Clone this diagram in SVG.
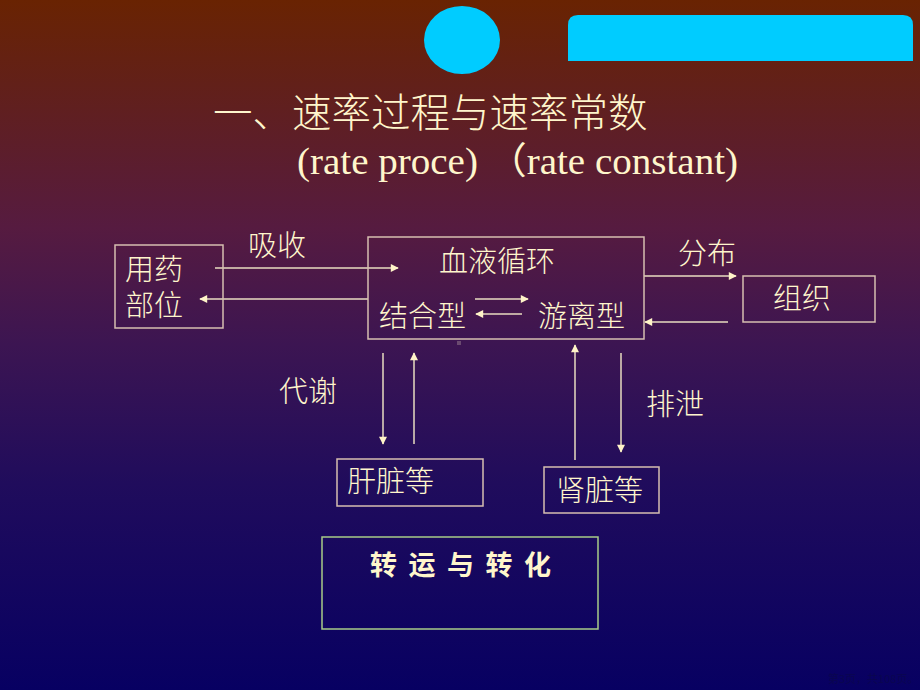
<svg xmlns="http://www.w3.org/2000/svg" width="920" height="690" viewBox="0 0 920 690">
<defs>
<linearGradient id="bg" x1="0" y1="0" x2="0" y2="1">
<stop offset="0" stop-color="#692302"/>
<stop offset="0.33" stop-color="#561b40"/>
<stop offset="0.5" stop-color="#3c1552"/>
<stop offset="0.7" stop-color="#200c5c"/>
<stop offset="1" stop-color="#070062"/>
</linearGradient>
<marker id="ah" viewBox="0 0 10 10" refX="9" refY="5" markerWidth="9" markerHeight="8" markerUnits="userSpaceOnUse" orient="auto">
<path d="M0,0 L10,5 L0,10 z" fill="#fff4c8"/>
</marker>
<style>
.t{font-family:"Noto Sans CJK SC","Liberation Sans",sans-serif;fill:#fff6cc;font-size:29px;font-weight:300}
.box{fill:none;stroke:#d6bfb0;stroke-width:1.5}
.ln{stroke:#e8dcc0;stroke-width:1.5;fill:none;marker-end:url(#ah)}
</style>
</defs>
<rect width="920" height="690" fill="url(#bg)"/>
<ellipse cx="462" cy="40" rx="38" ry="34" fill="#00ccff"/>
<path d="M568,61 V25 Q568,15 578,15 H903 Q913,15 913,25 V61 Z" fill="#00ccff"/>
<text x="213" y="127" class="t" style="font-size:39.5px">一、速率过程与速率常数</text>
<text x="297" y="174" style="font-family:'Liberation Serif','Noto Sans CJK SC',serif;font-size:37px;fill:#fff6cc" textLength="441" lengthAdjust="spacingAndGlyphs">(rate proce) （rate constant)</text>

<g id="connectors">
<line class="ln" x1="215" y1="268" x2="398" y2="268"/>
<line class="ln" x1="368" y1="299" x2="200" y2="299"/>
<line class="ln" x1="475" y1="299" x2="528" y2="299"/>
<line class="ln" x1="522" y1="314" x2="476" y2="314"/>
<line class="ln" x1="644" y1="276" x2="736" y2="276"/>
<line class="ln" x1="728" y1="322" x2="645" y2="322"/>
<line class="ln" x1="383" y1="353" x2="383" y2="444"/>
<line class="ln" x1="414" y1="444" x2="414" y2="353"/>
<line class="ln" x1="575" y1="460" x2="575" y2="345"/>
<line class="ln" x1="621" y1="353" x2="621" y2="452"/>
</g>

<g id="label-absorb"><text x="248" y="256" class="t">吸收</text></g>
<g id="label-distribute"><text x="678" y="264" class="t">分布</text></g>
<g id="label-metabolism"><text x="279" y="402" class="t">代谢</text></g>
<g id="label-excretion"><text x="646" y="415" class="t">排泄</text></g>

<g id="site">
<rect class="box" x="115" y="245" width="108" height="83"/>
<text class="t"><tspan x="125" y="280">用药</tspan><tspan x="125" y="316">部位</tspan></text>
</g>
<g id="circulation">
<rect class="box" x="368" y="237" width="276" height="102"/>
<text x="439" y="272" class="t">血液循环</text>
<text x="379" y="327" class="t">结合型</text>
<text x="538" y="327" class="t">游离型</text>
</g>
<rect x="457" y="341" width="4" height="4" fill="#6a4a70"/>
<g id="tissue">
<rect class="box" x="743" y="276" width="132" height="46"/>
<text x="773" y="309" class="t">组织</text>
</g>
<g id="liver">
<rect class="box" x="337" y="459" width="146" height="47"/>
<text x="347" y="492" class="t">肝脏等</text>
</g>
<g id="kidney">
<rect class="box" x="544" y="467" width="115" height="46"/>
<text x="556" y="501" class="t">肾脏等</text>
</g>
<g id="transport">
<rect x="322" y="537" width="276" height="92" fill="none" stroke="#a8cc88" stroke-width="1.5"/>
<text x="370" y="575" class="t" style="font-weight:bold;font-size:27px;letter-spacing:11.5px">转运与转化</text>
</g>
<text x="828" y="683" style="font-family:'Noto Sans CJK SC',sans-serif;font-size:11px;fill:#0a0650">第3页，共108页。</text>
</svg>
